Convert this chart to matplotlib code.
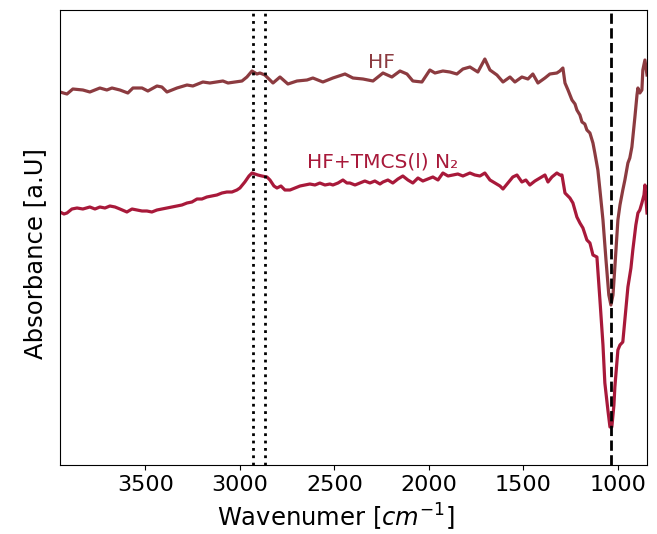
import matplotlib
matplotlib.use("Agg")
import matplotlib.pyplot as plt
import numpy as np

# Wavenumbers (cm^-1) and absorbance (a.u.)
wn_hf = [3952, 3915, 3884, 3831, 3794, 3741, 3704, 3677, 3635, 3593, 3566, 3518,
         3487, 3439, 3413, 3386, 3333, 3280, 3249, 3196, 3159, 3090, 3063, 2989,
         2963, 2936, 2910, 2894, 2868, 2825, 2788, 2746, 2698, 2645, 2614, 2561,
         2508, 2444, 2402, 2349, 2296, 2243, 2196, 2153, 2116, 2085, 2037, 1995,
         1968, 1926, 1889, 1852, 1820, 1783, 1741, 1704, 1677, 1640, 1608, 1571,
         1545, 1508, 1476, 1450, 1423, 1386, 1360, 1323, 1307, 1291, 1280, 1264,
         1243, 1227, 1217, 1201, 1190, 1175, 1164, 1148, 1132, 1122, 1106, 1095,
         1079, 1063, 1048, 1037, 1026, 1016, 1000, 989, 974, 963, 947, 937, 926,
         910, 899, 894, 884, 873, 868, 857, 846]
abs_hf = [3.73, 3.71, 3.76, 3.75, 3.73, 3.77, 3.75, 3.77, 3.75, 3.72, 3.77, 3.77,
          3.74, 3.79, 3.78, 3.73, 3.77, 3.80, 3.79, 3.83, 3.82, 3.84, 3.82, 3.84,
          3.88, 3.94, 3.91, 3.92, 3.90, 3.82, 3.88, 3.81, 3.84, 3.85, 3.87, 3.83,
          3.87, 3.91, 3.87, 3.86, 3.84, 3.92, 3.88, 3.94, 3.91, 3.84, 3.83, 3.95,
          3.92, 3.94, 3.93, 3.91, 3.96, 3.98, 3.93, 4.06, 3.95, 3.90, 3.83, 3.88,
          3.83, 3.88, 3.86, 3.91, 3.82, 3.87, 3.91, 3.92, 3.94, 3.97, 3.82, 3.75,
          3.65, 3.61, 3.55, 3.50, 3.43, 3.41, 3.35, 3.32, 3.22, 3.12, 2.95, 2.75,
          2.45, 2.05, 1.70, 1.60, 1.70, 1.98, 2.45, 2.60, 2.75, 2.85, 3.02, 3.07,
          3.18, 3.48, 3.70, 3.77, 3.72, 3.75, 3.95, 4.05, 3.90]

wn_tmcs = [3952, 3931, 3915, 3889, 3862, 3831, 3794, 3767, 3741, 3714, 3688, 3661,
           3635, 3598, 3571, 3545, 3518, 3492, 3466, 3439, 3413, 3386, 3360, 3333,
           3307, 3280, 3254, 3227, 3201, 3175, 3148, 3122, 3095, 3069, 3042, 3016,
           3000, 2974, 2952, 2936, 2921, 2905, 2884, 2857, 2841, 2820, 2804, 2783,
           2762, 2735, 2709, 2682, 2656, 2630, 2603, 2577, 2550, 2524, 2508, 2481,
           2455, 2434, 2418, 2391, 2365, 2339, 2312, 2286, 2259, 2243, 2217, 2191,
           2164, 2138, 2111, 2085, 2058, 2032, 2005, 1979, 1952, 1926, 1899, 1873,
           1847, 1820, 1783, 1757, 1730, 1704, 1677, 1651, 1624, 1608, 1582, 1556,
           1534, 1508, 1487, 1466, 1439, 1413, 1386, 1370, 1349, 1323, 1307, 1296,
           1280, 1254, 1238, 1217, 1201, 1185, 1164, 1148, 1132, 1111, 1095, 1079,
           1069, 1053, 1042, 1032, 1021, 1016, 1000, 989, 974, 958, 947, 931, 921,
           905, 894, 884, 873, 862, 857, 846]
abs_tmcs = [2.53, 2.51, 2.52, 2.56, 2.57, 2.56, 2.58, 2.56, 2.58, 2.57, 2.59, 2.58,
            2.56, 2.53, 2.56, 2.55, 2.54, 2.54, 2.53, 2.55, 2.56, 2.57, 2.58, 2.59,
            2.60, 2.62, 2.63, 2.66, 2.66, 2.68, 2.69, 2.70, 2.72, 2.73, 2.73, 2.75,
            2.77, 2.83, 2.89, 2.92, 2.91, 2.90, 2.89, 2.88, 2.85, 2.79, 2.77, 2.79,
            2.75, 2.75, 2.77, 2.79, 2.80, 2.81, 2.80, 2.82, 2.80, 2.81, 2.80, 2.82,
            2.85, 2.82, 2.82, 2.80, 2.82, 2.84, 2.82, 2.84, 2.81, 2.83, 2.85, 2.82,
            2.86, 2.89, 2.85, 2.82, 2.87, 2.84, 2.86, 2.88, 2.85, 2.92, 2.89, 2.90,
            2.91, 2.89, 2.92, 2.90, 2.89, 2.92, 2.85, 2.82, 2.79, 2.76, 2.82, 2.88,
            2.90, 2.83, 2.85, 2.80, 2.84, 2.87, 2.90, 2.83, 2.88, 2.92, 2.90, 2.90,
            2.72, 2.67, 2.62, 2.48, 2.42, 2.37, 2.25, 2.22, 2.10, 2.08, 1.65, 1.20,
            0.82, 0.55, 0.38, 0.38, 0.60, 0.78, 1.15, 1.20, 1.23, 1.55, 1.78, 1.97,
            2.15, 2.40, 2.52, 2.55, 2.62, 2.70, 2.80, 2.52]

dotted_lines = [2931, 2868]
dashed_line = 1037
xticks = [3500, 3000, 2500, 2000, 1500, 1000]
labels = ["HF", "HF+TMCS(l) N\u2082"]
c_hf = "#8c3b40"
c_tmcs = "#a8193a"

fig = plt.figure(figsize=(6.57, 5.34), dpi=100)
ax = fig.add_axes([60/657, 69/534, 587/657, 455/534])

ax.plot(wn_hf, abs_hf, color=c_hf, lw=2.3)
ax.plot(wn_tmcs, abs_tmcs, color=c_tmcs, lw=2.3)
for w in dotted_lines:
    ax.axvline(w, color="black", ls=":", lw=2)
ax.axvline(dashed_line, color="black", ls="--", lw=2)

ax.text(2249, 3.97, labels[0], color=c_hf, fontsize=14.5, ha="center", va="baseline")
ax.text(2243, 2.97, labels[1], color=c_tmcs, fontsize=14.5, ha="center", va="baseline")

ax.set_xlim(3952, 846)
ax.set_ylim(0, 4.55)
ax.set_xticks(xticks)
ax.tick_params(axis="x", labelsize=16)
ax.set_yticks([])
ax.set_xlabel("Wavenumer [$cm^{-1}$]", fontsize=17.5, labelpad=5.5)
ax.set_ylabel("Absorbance [a.U]", fontsize=17.5, labelpad=9)
ax.xaxis.label.set_x(0.47)
ax.yaxis.label.set_y(0.464)

fig.savefig("out.png", dpi=100)
